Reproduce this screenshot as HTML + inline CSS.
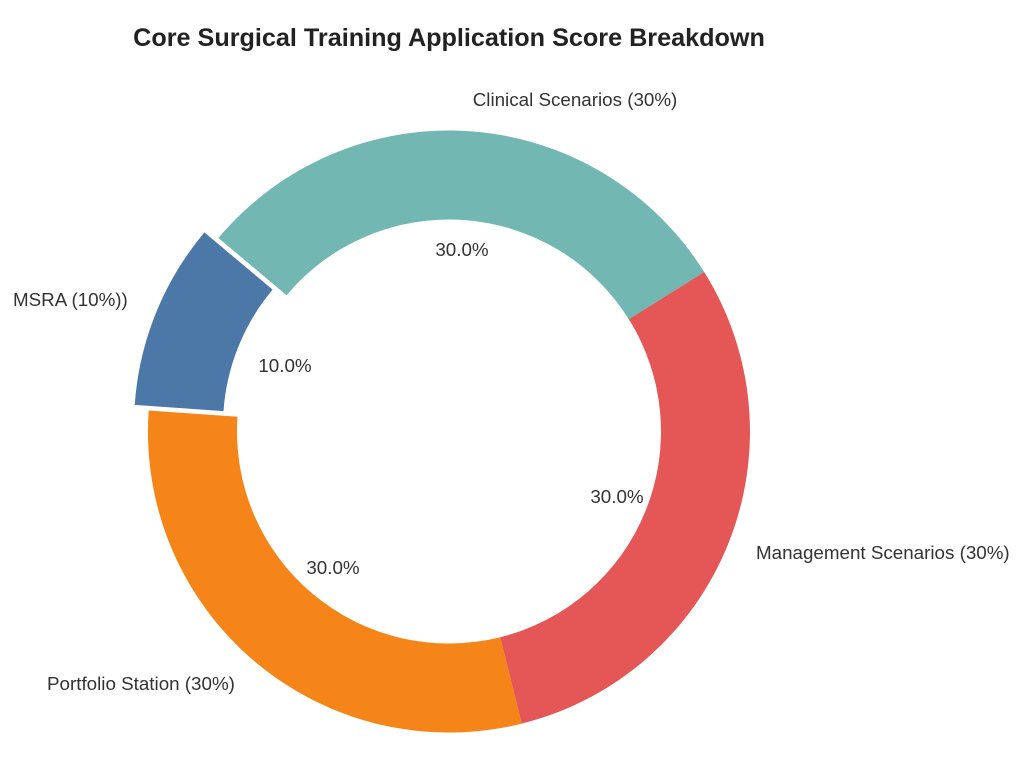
<!DOCTYPE html>
<html><head><style>body{margin:0;background:#fff}</style></head><body>
<svg width="1024" height="752" xmlns="http://www.w3.org/2000/svg" font-family="Liberation Sans, sans-serif">
<rect width="1024" height="752" fill="#fff"/>
<text x="449" y="46" text-anchor="middle" font-size="25.2" font-weight="bold" fill="#222">Core Surgical Training Application Score Breakdown</text>
<g>
<path d="M704.2,272 A301,301 0 0 0 218.4,238 L286.6,295.2 A212,212 0 0 1 628.8,319.2 Z" fill="#72b7b2"/>
<path transform="translate(-14,-5.6)" d="M218.4,238 A301,301 0 0 0 148.7,410.5 L237.5,416.7 A212,212 0 0 1 286.6,295.2 Z" fill="#4c78a8"/>
<path d="M148.7,410.5 A301,301 0 0 0 521.8,723.6 L500.3,637.2 A212,212 0 0 1 237.5,416.7 Z" fill="#f58518"/>
<path d="M521.8,723.6 A301,301 0 0 0 704.2,272 L628.8,319.2 A212,212 0 0 1 500.3,637.2 Z" fill="#e45756"/>
</g>
<g font-size="18.8" fill="#333">
<text x="575" y="106" text-anchor="middle">Clinical Scenarios (30%)</text>
<text x="13" y="306">MSRA (10%))</text>
<text x="756" y="559">Management Scenarios (30%)</text>
<text x="47" y="690">Portfolio Station (30%)</text>
<text x="462" y="256" text-anchor="middle">30.0%</text>
<text x="285" y="372" text-anchor="middle">10.0%</text>
<text x="617" y="503" text-anchor="middle">30.0%</text>
<text x="333" y="574" text-anchor="middle">30.0%</text>
</g>
</svg>
</body></html>
